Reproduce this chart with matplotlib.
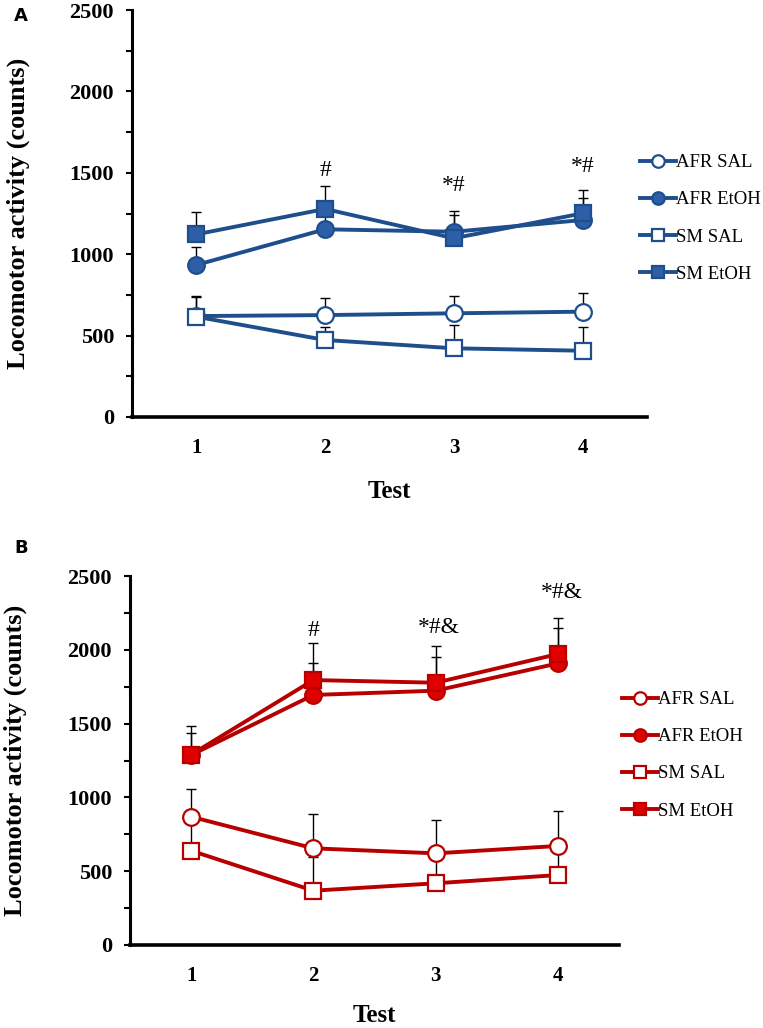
import matplotlib
matplotlib.use("Agg")
import matplotlib.pyplot as plt
import numpy as np

#### Data ####
tests = [1, 2, 3, 4]
labels = ["AFR SAL", "AFR EtOH", "SM SAL", "SM EtOH"]

# panel A (blue)
a_afr_sal = [620, 626, 637, 647]
a_afr_sal_err = [120, 105, 108, 113]
a_afr_etoh = [934, 1153, 1138, 1210]
a_afr_etoh_err = [108, 90, 100, 133]
a_sm_sal = [616, 473, 422, 407]
a_sm_sal_err = [130, 80, 143, 148]
a_sm_etoh = [1122, 1278, 1098, 1251]
a_sm_etoh_err = [137, 141, 169, 143]

# panel B (red)
b_afr_sal = [869, 655, 621, 671]
b_afr_sal_err = [190, 232, 226, 239]
b_afr_etoh = [1287, 1694, 1723, 1908]
b_afr_etoh_err = [150, 219, 230, 237]
b_sm_sal = [639, 368, 418, 474]
b_sm_sal_err = [200, 230, 180, 170]
b_sm_etoh = [1290, 1795, 1777, 1971]
b_sm_etoh_err = [196, 253, 249, 247]

a_marks = ["#", "*#", "*#"]
a_mark_x = [2, 3, 4]
a_mark_y = [1517, 1425, 1536]
b_marks = ["#", "*#&", "*#&"]
b_mark_x = [2, 3.03, 4.03]
b_mark_y = [2134, 2148, 2385]

plt.rcParams['font.family'] = ['Liberation Serif', 'DejaVu Serif']

W, H = 763, 1028
fig = plt.figure(figsize=(W / 100, H / 100), dpi=100)


def px_axes(l, t, r, b):
    return fig.add_axes([l / W, 1 - b / H, (r - l) / W, (b - t) / H])


def draw_panel(ax, series, line_c, fill_c):
    # series: list of (mean, err, marker, filled)
    for (y, e, m, filled), lab in zip(series, labels):
        ax.errorbar(tests, y, yerr=[np.zeros(4), e], fmt="none", ecolor="black",
                    elinewidth=1, capsize=3.5, capthick=1, zorder=2)
    for (y, e, m, filled), lab in zip(series, labels):
        ax.plot(tests, y, color=line_c, lw=2.8, marker=m, ms=12,
                mfc=fill_c if filled else "white", mec=line_c, mew=1.6,
                label=lab, zorder=3)
    ax.set_xlim(0.5, 4.5)
    ax.set_ylim(0, 2500)
    ax.set_yticks(np.arange(0, 2501, 500))
    ax.set_yticks(np.arange(0, 2501, 250), minor=True)
    ax.set_xticks(tests)
    ax.spines["top"].set_visible(False)
    ax.spines["right"].set_visible(False)
    ax.spines["left"].set_linewidth(2.2)
    ax.spines["bottom"].set_linewidth(2.6)
    ax.tick_params(axis="y", which="both", direction="out", length=4, width=1.5,
                   labelsize=16, pad=9)
    ax.tick_params(axis="x", length=0, labelsize=15, pad=15)
    for t in ax.get_xticklabels() + ax.get_yticklabels():
        t.set_fontweight("bold")
    ax.set_ylabel("Locomotor activity (counts)", fontsize=19, fontweight="bold")
    ax.set_xlabel("Test", fontsize=18, fontweight="bold")


# Panel A
axA = px_axes(132, 10, 647, 417)
blue_line = "#1f4e8c"
blue_fill = "#2c5fa8"
draw_panel(axA, [(a_afr_sal, a_afr_sal_err, "o", False),
                 (a_afr_etoh, a_afr_etoh_err, "o", True),
                 (a_sm_sal, a_sm_sal_err, "s", False),
                 (a_sm_etoh, a_sm_etoh_err, "s", True)], blue_line, blue_fill)
for s, x, y in zip(a_marks, a_mark_x, a_mark_y):
    axA.text(x, y, s, ha="center", va="center", fontsize=17)
axA.yaxis.set_label_coords(-0.198, 0.5)
axA.xaxis.set_label_coords(0.5, -0.155)
axA.legend(loc="upper left", bbox_to_anchor=(640 / W, 1 - 154 / H),
           bbox_transform=fig.transFigure, frameon=False, fontsize=13.5,
           handlelength=1.9, handletextpad=0.0, labelspacing=1.07, borderpad=0,
           borderaxespad=0, markerscale=0.75)

# Panel B
axB = px_axes(130, 576, 619, 945)
red_line = "#b80000"
red_fill = "#e00000"
draw_panel(axB, [(b_afr_sal, b_afr_sal_err, "o", False),
                 (b_afr_etoh, b_afr_etoh_err, "o", True),
                 (b_sm_sal, b_sm_sal_err, "s", False),
                 (b_sm_etoh, b_sm_etoh_err, "s", True)], red_line, red_fill)
for s, x, y in zip(b_marks, b_mark_x, b_mark_y):
    axB.text(x, y, s, ha="center", va="center", fontsize=17)
axB.yaxis.set_label_coords(-0.21, 0.5)
axB.xaxis.set_label_coords(0.5, -0.16)
axB.legend(loc="upper left", bbox_to_anchor=(622 / W, 1 - 691 / H),
           bbox_transform=fig.transFigure, frameon=False, fontsize=13.5,
           handlelength=1.9, handletextpad=0.0, labelspacing=1.07, borderpad=0,
           borderaxespad=0, markerscale=0.75)

fig.text(14 / W, 1 - 16 / H, "A", fontsize=13, fontweight="bold",
         family="DejaVu Sans", va="center")
fig.text(14 / W, 1 - 548 / H, "B", fontsize=13, fontweight="bold",
         family="DejaVu Sans", va="center")

fig.savefig("out.png", dpi=100)
